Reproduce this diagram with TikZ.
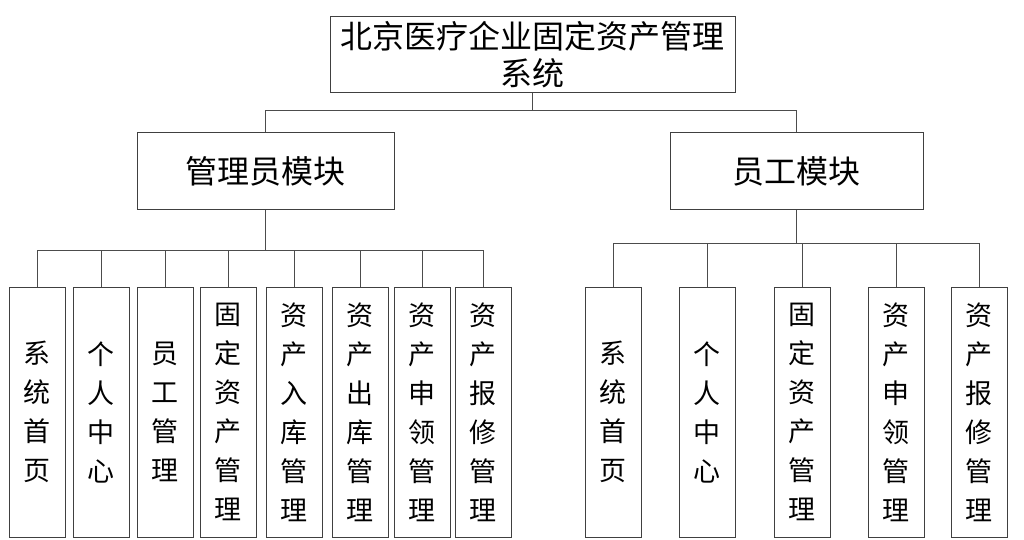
\documentclass[tikz,border=0pt]{standalone}
\usepackage{fontspec}
\newfontfamily\cjk{Noto Sans CJK SC}
\usepackage{tikz}
\usetikzlibrary{positioning}
\tikzset{
	sysbox/.style={draw=black!75, line width=1pt, fill=white, align=center,
		inner sep=0pt, font=\cjk\fontsize{32}{37}\selectfont},
	modbox/.style={draw=black!75, line width=1pt, fill=white, align=center,
		inner sep=0pt, minimum height=76pt, font=\cjk\fontsize{32}{35}\selectfont},
	leafbox/.style={draw=black!75, line width=1pt, fill=white, align=center,
		inner sep=0pt, minimum width=56pt, minimum height=250pt,
		font=\cjk\fontsize{27}{39}\selectfont},
	tline/.style={line width=1pt, draw=black!70},
}

\begin{document}
\begin{tikzpicture}[x=1pt,y=-1pt]
	\useasboundingbox (0,0) rectangle (1024,540);

	% Root
	\node[sysbox,minimum width=405pt,minimum height=76pt] at (532.5,55) (sys) {北京医疗企业固定资产管理\\系统};

	% Module row
	\node[modbox,minimum width=257pt] at (265.5,171) (admin) {管理员模块};
	\node[modbox,minimum width=253pt] at (796.5,171) (emp)   {员工模块};

	% Admin leaves
	\node[leafbox] at (37,412)  (a1) {系\\统\\首\\页};
	\node[leafbox] at (101,412) (a2) {个\\人\\中\\心};
	\node[leafbox] at (165,412) (a3) {员\\工\\管\\理};
	\node[leafbox] at (228,412) (a4) {固\\定\\资\\产\\管\\理};
	\node[leafbox] at (294,412) (a5) {资\\产\\入\\库\\管\\理};
	\node[leafbox] at (360,412) (a6) {资\\产\\出\\库\\管\\理};
	\node[leafbox] at (422,412) (a7) {资\\产\\申\\领\\管\\理};
	\node[leafbox] at (483,412) (a8) {资\\产\\报\\修\\管\\理};

	% Employee leaves
	\node[leafbox] at (613,412) (e1) {系\\统\\首\\页};
	\node[leafbox] at (707,412) (e2) {个\\人\\中\\心};
	\node[leafbox] at (802,412) (e3) {固\\定\\资\\产\\管\\理};
	\node[leafbox] at (896,412) (e4) {资\\产\\申\\领\\管\\理};
	\node[leafbox] at (979,412) (e5) {资\\产\\报\\修\\管\\理};

	% Buses
	\coordinate (sbus) at (532.5,111);
	\coordinate (abus) at (265.5,250);
	\coordinate (ebus) at (796.5,243);

	% Root -> modules
	\draw[tline] (sys.south) -- (sbus);
	\draw[tline] (sbus) -| (admin.north);
	\draw[tline] (sbus) -| (emp.north);

	% Modules -> leaves
	\draw[tline] (admin.south) -- (abus);
	\foreach \n in {a1,a2,a3,a4,a5,a6,a7,a8}
		\draw[tline] (abus) -| (\n.north);
	\draw[tline] (emp.south) -- (ebus);
	\foreach \n in {e1,e2,e3,e4,e5}
		\draw[tline] (ebus) -| (\n.north);
\end{tikzpicture}
\end{document}
